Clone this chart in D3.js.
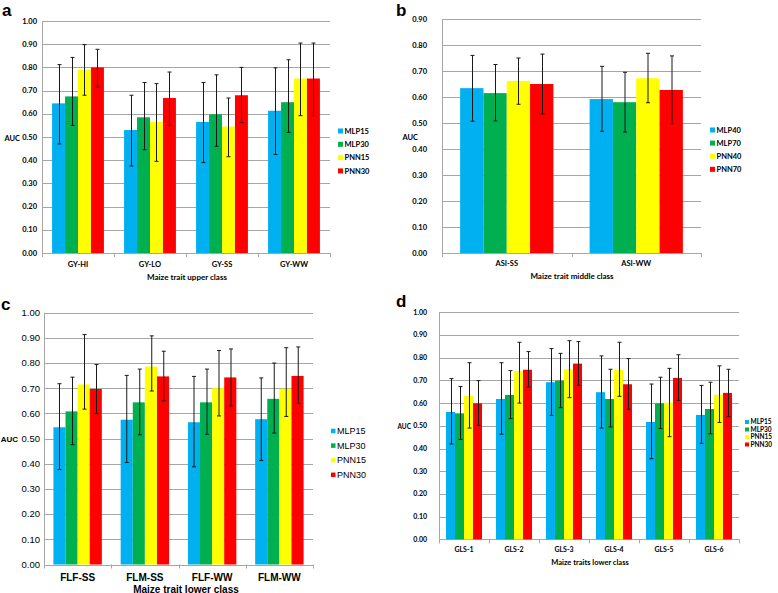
<!DOCTYPE html>
<html>
<head>
<meta charset="utf-8">
<script src="https://cdn.jsdelivr.net/npm/d3@7"></script>
<style>
  body { margin: 0; background: #fff; }
  svg { display: block; }
</style>
</head>
<body>
<div id="chart"></div>
<script>
// panel a - upper class
const seriesA = ["MLP15", "MLP30", "PNN15", "PNN30"];
const catsA = ["GY-HI", "GY-LO", "GY-SS", "GY-WW"];
const aucA = [[0.645, 0.675, 0.79, 0.80], [0.53, 0.585, 0.565, 0.668], [0.565, 0.598, 0.545, 0.68], [0.613, 0.65, 0.752, 0.752]];
const lowA = [[0.47, 0.55, 0.68, 0.715], [0.375, 0.445, 0.395, 0.55], [0.39, 0.46, 0.415, 0.562], [0.425, 0.52, 0.592, 0.592]];
const highA = [[0.812, 0.843, 0.898, 0.878], [0.68, 0.735, 0.73, 0.78], [0.735, 0.768, 0.668, 0.80], [0.798, 0.833, 0.905, 0.905]];

// panel b - middle class
const seriesB = ["MLP40", "MLP70", "PNN40", "PNN70"];
const catsB = ["ASI-SS", "ASI-WW"];
const aucB = [[0.634, 0.615, 0.662, 0.65], [0.592, 0.58, 0.672, 0.627]];
const lowB = [[0.507, 0.508, 0.572, 0.535], [0.468, 0.465, 0.578, 0.498]];
const highB = [[0.76, 0.725, 0.75, 0.765], [0.718, 0.695, 0.768, 0.758]];

// panel c - lower class (flowering)
const seriesC = ["MLP15", "MLP30", "PNN15", "PNN30"];
const catsC = ["FLF-SS", "FLM-SS", "FLF-WW", "FLM-WW"];
const aucC = [[0.545, 0.608, 0.715, 0.697], [0.575, 0.644, 0.786, 0.747], [0.565, 0.644, 0.70, 0.743], [0.577, 0.658, 0.698, 0.749]];
const lowC = [[0.377, 0.476, 0.617, 0.599], [0.405, 0.515, 0.689, 0.65], [0.388, 0.517, 0.59, 0.63], [0.413, 0.522, 0.588, 0.64]];
const highC = [[0.718, 0.744, 0.913, 0.794], [0.751, 0.776, 0.908, 0.847], [0.747, 0.776, 0.85, 0.856], [0.741, 0.80, 0.861, 0.864]];

// panel d - lower class (GLS)
const seriesD = ["MLP15", "MLP30", "PNN15", "PNN30"];
const catsD = ["GLS-1", "GLS-2", "GLS-3", "GLS-4", "GLS-5", "GLS-6"];
const aucD = [[0.561, 0.555, 0.631, 0.599], [0.618, 0.636, 0.74, 0.747], [0.692, 0.699, 0.749, 0.774], [0.648, 0.618, 0.746, 0.683], [0.517, 0.599, 0.602, 0.711], [0.548, 0.574, 0.637, 0.645]];
const lowD = [[0.42, 0.44, 0.49, 0.502], [0.463, 0.532, 0.60, 0.671], [0.546, 0.58, 0.624, 0.678], [0.49, 0.495, 0.63, 0.573], [0.355, 0.488, 0.452, 0.612], [0.423, 0.465, 0.515, 0.54]];
const highD = [[0.708, 0.673, 0.778, 0.699], [0.778, 0.743, 0.868, 0.827], [0.84, 0.819, 0.875, 0.871], [0.808, 0.749, 0.868, 0.796], [0.684, 0.714, 0.753, 0.813], [0.678, 0.692, 0.764, 0.749]];

const colors = ["#00b0f0", "#00b050", "#ffff00", "#ff0000"];

const svg = d3.select("#chart").append("svg")
    .attr("width", 778)
    .attr("height", 593);

function drawPanel(p) {
    let g = svg.append("g");

    let y = d3.scaleLinear().domain([0, p.yMax]).range([p.bottom, p.top]);
    let x = d3.scaleBand().domain(p.cats).range([p.left, p.right]);
    let xs = d3.scaleBand().domain(p.series)
        .range([x.bandwidth() * 0.14, x.bandwidth() * 0.86]);

    let ticks = d3.range(0, p.yMax + 0.001, 0.1);

    // gridlines
    g.selectAll(".grid").data(ticks).enter().append("line")
        .attr("x1", p.left).attr("x2", p.right)
        .attr("y1", d => Math.round(y(d)) + 0.5).attr("y2", d => Math.round(y(d)) + 0.5)
        .attr("stroke", "#a6a6a6").attr("stroke-width", 1);

    // y axis line
    g.append("line")
        .attr("x1", p.left + 0.5).attr("x2", p.left + 0.5)
        .attr("y1", y(p.yMax)).attr("y2", p.bottom)
        .attr("stroke", "#a6a6a6");

    // x ticks at band edges
    let edges = p.cats.map(c => x(c)).concat([p.right]);
    g.selectAll(".xt").data(edges).enter().append("line")
        .attr("x1", d => Math.round(d) + 0.5).attr("x2", d => Math.round(d) + 0.5)
        .attr("y1", p.bottom).attr("y2", p.bottom + 4)
        .attr("stroke", "#a6a6a6");

    // bars
    p.cats.forEach((c, i) => {
        let grp = g.append("g").attr("transform", "translate(" + x(c) + ",0)");
        grp.selectAll("rect").data(p.series).enter().append("rect")
            .attr("x", s => xs(s))
            .attr("y", (s, j) => y(p.values[i][j]))
            .attr("width", xs.bandwidth())
            .attr("height", (s, j) => p.bottom - y(p.values[i][j]))
            .attr("fill", (s, j) => colors[j]);

        // error bars
        p.series.forEach((s, j) => {
            let cx = Math.round(xs(s) + xs.bandwidth() / 2) + 0.5;
            let eg = grp.append("g").attr("stroke", "#1a1a1a").attr("stroke-width", 1);
            eg.append("line").attr("x1", cx).attr("x2", cx)
                .attr("y1", y(p.high[i][j])).attr("y2", y(p.low[i][j]));
            eg.append("line").attr("x1", cx - 2).attr("x2", cx + 2)
                .attr("y1", y(p.high[i][j])).attr("y2", y(p.high[i][j]));
            eg.append("line").attr("x1", cx - 2).attr("x2", cx + 2)
                .attr("y1", y(p.low[i][j])).attr("y2", y(p.low[i][j]));
        });
    });

    // y tick labels
    g.selectAll(".yl").data(ticks).enter().append("text")
        .attr("x", p.tickX).attr("y", d => y(d))
        .attr("dy", "0.35em")
        .attr("text-anchor", "end")
        .attr("font-family", p.font).attr("font-weight", p.tickWeight)
        .attr("font-size", p.tickSize).attr("fill", "#000")
        .text(d => d3.format(".2f")(d));

    // category labels
    g.selectAll(".xl").data(p.cats).enter().append("text")
        .attr("x", d => x(d) + x.bandwidth() / 2).attr("y", p.catY)
        .attr("dy", "0.35em")
        .attr("text-anchor", "middle")
        .attr("font-family", p.font).attr("font-weight", "bold")
        .attr("font-size", p.catSize)
        .text(d => d);

    // axis title
    g.append("text")
        .attr("x", p.titleX).attr("y", p.titleY).attr("dy", "0.35em")
        .attr("text-anchor", "middle")
        .attr("font-family", p.font).attr("font-weight", "bold")
        .attr("font-size", p.titleSize)
        .text(p.title);

    // AUC, at the vertical middle of the plot
    g.append("text")
        .attr("x", p.aucX).attr("y", (p.top + p.bottom) / 2 + 1).attr("dy", "0.35em")
        .attr("text-anchor", "end")
        .attr("font-family", p.font).attr("font-weight", "bold")
        .attr("font-size", p.aucSize)
        .text("AUC");

    // legend
    let lg = g.selectAll(".lg").data(p.series).enter().append("g")
        .attr("transform", (d, j) => "translate(" + p.legX + "," + (p.legY + j * p.legStep) + ")");
    lg.append("rect").attr("x", 0).attr("y", -p.legBox / 2)
        .attr("width", p.legBox).attr("height", p.legBox)
        .attr("fill", (d, j) => colors[j]);
    lg.append("text").attr("x", p.legBox + 1.5).attr("y", 0).attr("dy", "0.35em")
        .attr("font-family", p.font).attr("font-weight", p.legWeight)
        .attr("font-size", p.legSize)
        .text(d => d);

    // panel letter
    g.append("text")
        .attr("x", p.letterX).attr("y", p.letterY)
        .attr("font-family", "Liberation Sans, Arial, sans-serif").attr("font-weight", "bold")
        .attr("font-size", 17)
        .text(p.letter);
}

const calibri = "Lato, 'Open Sans', sans-serif";
const arial = "'Liberation Sans', Arial, sans-serif";

drawPanel({
    letter: "a", letterX: 2, letterY: 16,
    series: seriesA, cats: catsA, values: aucA, low: lowA, high: highA,
    yMax: 1.0, left: 42, right: 330, top: 21, bottom: 253,
    font: calibri, tickX: 37, tickSize: 7.5, tickWeight: "bold",
    catY: 264, catSize: 7.5, title: "Maize trait upper class", titleX: 187, titleY: 277, titleSize: 8,
    aucX: 20, aucSize: 7.5,
    legX: 338, legY: 131, legStep: 13.3, legBox: 5, legSize: 7.5, legWeight: "bold"
});

drawPanel({
    letter: "b", letterX: 396, letterY: 16,
    series: seriesB, cats: catsB, values: aucB, low: lowB, high: highB,
    yMax: 0.9, left: 442, right: 701, top: 19, bottom: 253,
    font: calibri, tickX: 427, tickSize: 7.5, tickWeight: "bold",
    catY: 263, catSize: 7.5, title: "Maize trait middle class", titleX: 572, titleY: 276, titleSize: 8,
    aucX: 418, aucSize: 7.5,
    legX: 710, legY: 130, legStep: 13.1, legBox: 5, legSize: 7.5, legWeight: "bold"
});

drawPanel({
    letter: "c", letterX: 1, letterY: 310,
    series: seriesC, cats: catsC, values: aucC, low: lowC, high: highC,
    yMax: 1.0, left: 44, right: 313, top: 312.7, bottom: 564.5,
    font: arial, tickX: 40, tickSize: 9.5, tickWeight: "normal",
    catY: 577.5, catSize: 10, title: "Maize trait lower class", titleX: 186, titleY: 589, titleSize: 10,
    aucX: 18, aucSize: 8,
    legX: 331, legY: 431, legStep: 14.6, legBox: 4.5, legSize: 9, legWeight: "normal"
});

drawPanel({
    letter: "d", letterX: 396, letterY: 307,
    series: seriesD, cats: catsD, values: aucD, low: lowD, high: highD,
    yMax: 1.0, left: 439, right: 739, top: 312.3, bottom: 539.3,
    font: calibri, tickX: 427, tickSize: 7, tickWeight: "bold",
    catY: 550, catSize: 7, title: "Maize traits lower class", titleX: 590, titleY: 562.5, titleSize: 7.5,
    aucX: 411, aucSize: 6.5,
    legX: 745, legY: 422, legStep: 7.5, legBox: 4, legSize: 6.5, legWeight: "bold"
});
</script>
</body>
</html>
